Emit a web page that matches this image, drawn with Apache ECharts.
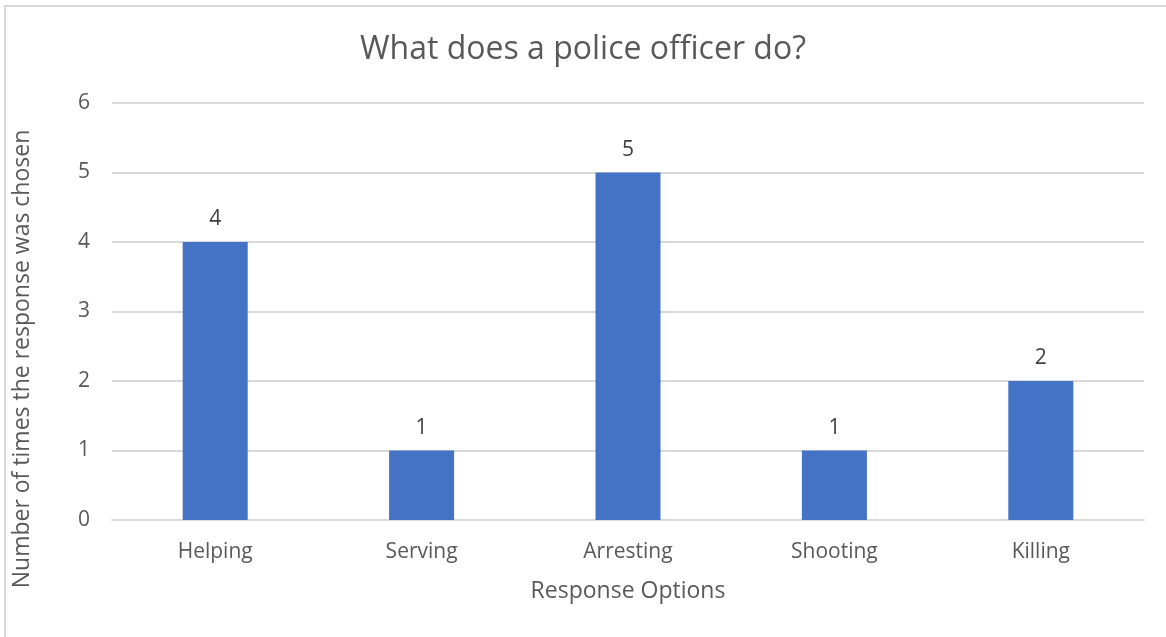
<!DOCTYPE html>
<html>
<head>
<meta charset="utf-8">
<script src="https://cdn.jsdelivr.net/npm/echarts@6/dist/echarts.min.js"></script>
<style>
    html, body { margin: 0; padding: 0; background: #fff; overflow: hidden; }
    #frame { position: absolute; left: 4px; top: 5px; width: 1200px; height: 700px;
             border-left: 2px solid #d9d9d9; border-top: 2px solid #d9d9d9; box-sizing: border-box; }
    #chart { position: absolute; left: 0; top: 0; width: 1166px; height: 637px; }
</style>
</head>
<body>
<div id="frame"></div>
<div id="chart"></div>
<script>
// chart data
var categories = ['Helping', 'Serving', 'Arresting', 'Shooting', 'Killing'];
var counts = [4, 1, 5, 1, 2];
var yTicks = [0, 1, 2, 3, 4, 5, 6];

var textColor = '#595959';
var fontName = 'Open Sans';

var myChart = echarts.init(document.getElementById('chart'));

var option = {
    animation: false,
    title: {
        text: 'What does a police officer do?',
        left: 'center',
        top: 29,
        textStyle: {
            color: textColor,
            fontSize: 32,
            fontWeight: 'normal',
            fontFamily: fontName
        }
    },
    grid: {
        left: 112,
        right: 22,
        top: 103,
        bottom: 117
    },
    // y axis title centred on the whole chart, like the original
    graphic: [
        {
            type: 'text',
            x: 22,
            y: 359,
            rotation: Math.PI / 2,
            style: {
                text: 'Number of times the response was chosen',
                fill: textColor,
                fontSize: 23,
                fontFamily: fontName,
                align: 'center',
                verticalAlign: 'middle'
            }
        }
    ],
    xAxis: {
        type: 'category',
        data: categories,
        name: 'Response Options',
        nameLocation: 'middle',
        nameGap: 60,
        nameTextStyle: { color: textColor, fontSize: 23, fontFamily: fontName },
        axisLine: { lineStyle: { color: '#d9d9d9', width: 2 } },
        axisTick: { show: false },
        axisLabel: { color: textColor, fontSize: 21, fontFamily: fontName, margin: 22 }
    },
    yAxis: {
        type: 'value',
        min: yTicks[0],
        max: yTicks[yTicks.length - 1],
        interval: 1,
        axisLine: { show: false },
        axisTick: { show: false },
        axisLabel: { color: textColor, fontSize: 21, fontFamily: fontName, margin: 22 },
        splitLine: { lineStyle: { color: '#d9d9d9', width: 2 } }
    },
    series: [
        {
            type: 'bar',
            data: counts,
            barWidth: '31.5%',
            itemStyle: { color: '#4472C4' },
            label: {
                show: true,
                position: 'top',
                distance: 12,
                color: '#404040',
                fontSize: 21,
                fontFamily: fontName
            }
        }
    ]
};

myChart.setOption(option);
</script>
</body>
</html>
